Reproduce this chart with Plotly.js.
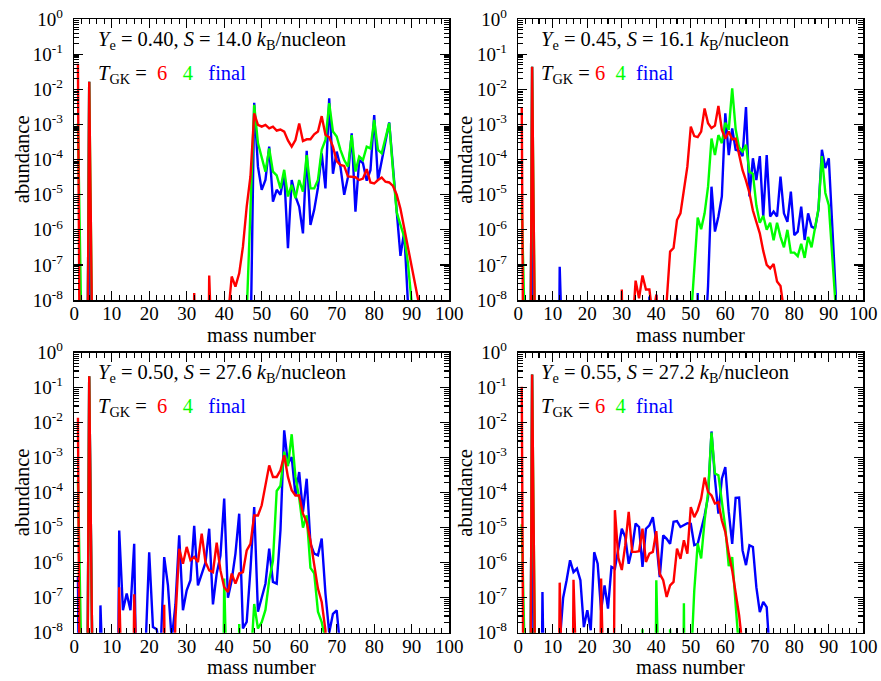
<!DOCTYPE html>
<html>
<head>
<meta charset="utf-8">
<script src="https://cdn.plot.ly/plotly-3.0.1.min.js"></script>
<style>html,body{margin:0;padding:0;background:#fff;}#chart{width:881px;height:681px;}</style>
</head>
<body>
<div id="chart"></div>
<script>
// U marks an abundance far below the plotted range (< 1e-8)
const U = -20;

// mass numbers A = 1..95 (categories shared by every series)
const massNumber = [
  1,2,3,4,5,6,7,8,9,10, 11,12,13,14,15,16,17,18,19,20,
  21,22,23,24,25,26,27,28,29,30, 31,32,33,34,35,36,37,38,39,40,
  41,42,43,44,45,46,47,48,49,50, 51,52,53,54,55,56,57,58,59,60,
  61,62,63,64,65,66,67,68,69,70, 71,72,73,74,75,76,77,78,79,80,
  81,82,83,84,85,86,87,88,89,90, 91,92,93,94,95
];

// log10(abundance), index 0 = A=1
// Panel 1: Ye = 0.40, S = 14.0
const p1T6 = [
  -1.27,U,U,-1.78,U,U,U,U,U,U,
  U,U,U,U,U,U,U,U,U,U,
  U,U,U,U,U,U,U,U,U,U,
  U,-7.8,U,U,U,-7.3,U,U,U,U,
  -8.5,-7.33,-7.62,-7.24,-6.48,-5.34,-4.48,-2.68,-3.01,-3.06,
  -3.01,-3.11,-3.06,-3.17,-3.14,-3.20,-3.45,-3.63,-3.44,-2.97,
  -3.47,-3.42,-3.42,-3.28,-3.20,-2.76,-3.29,-3.36,-3.63,-4.04,
  -4.15,-4.18,-4.48,-4.50,-4.50,-4.58,-4.54,-4.27,-4.65,-4.68,
  -4.58,-4.51,-4.63,-4.65,-4.75,-5.0,-5.4,-5.95,-6.5,-7.05,
  -7.6,-8.15,U,U,U
];
const p1T4 = [
  -2.96,-9.3,U,-1.78,U,U,U,U,U,U,
  U,U,U,U,U,U,U,U,U,U,
  U,U,U,U,U,U,U,U,U,U,
  U,U,U,U,U,U,U,U,U,U,
  U,U,U,U,U,-8.4,-5.4,-2.44,-3.53,-3.95,
  -4.34,-3.68,-4.34,-4.45,-4.82,-4.29,-5.05,-4.72,-5.10,-4.58,
  -4.91,-3.87,-4.82,-4.82,-4.58,-3.72,-3.44,-2.39,-3.20,-3.34,
  -3.72,-4.01,-4.2,-3.3,-4.34,-3.91,-4.01,-3.63,-3.68,-2.87,
  -3.72,-3.82,-3.39,-2.96,-4.29,-5.5,-5.86,-6.2,-6.95,-8.1,
  U,U,U,U,U
];
const p1Final = [
  U,U,U,-1.78,U,U,U,U,U,U,
  U,U,U,U,U,U,U,U,U,U,
  U,U,U,U,U,U,U,U,U,U,
  U,U,U,U,U,U,U,U,U,U,
  U,U,U,U,U,U,-9.5,-2.38,-4.2,-4.86,
  -4.58,-3.63,-5.2,-4.86,-5.0,-4.4,-6.52,-4.58,-5.05,-5.34,
  -6.1,-3.75,-5.86,-5.43,-4.8,-3.82,-4.82,-2.25,-4.4,-3.77,
  -4.2,-5.0,-4.5,-3.25,-5.48,-4.01,-4.1,-4.6,-4.3,-2.73,
  -4.58,-4.0,-3.5,-2.94,-4.2,-5.4,-6.74,-6.05,-8.1,U,
  U,U,U,U,U
];

// Panel 2: Ye = 0.45, S = 16.1
const p2T6 = [
  -2.5,U,U,-1.35,U,U,U,U,U,U,
  U,U,U,U,U,U,U,U,U,U,
  U,U,U,U,U,U,U,U,U,-7.7,
  U,U,-9.0,-7.45,-7.95,-7.3,-7.7,-7.7,-8.5,-7.85,
  -9.5,-9.5,-8.05,-6.62,-6.52,-5.72,-5.53,-4.8,-4.2,-3.06,
  -3.33,-3.36,-3.2,-2.54,-2.96,-3.1,-3.03,-2.47,-3.15,-3.4,
  -3.2,-3.42,-3.4,-3.85,-4.3,-4.6,-4.95,-5.45,-5.8,-6.1,
  -6.6,-7.0,-7.1,-6.97,-7.47,-7.6,-8.3,U,U,U,
  U,U,U,U,U,U,U,U,U,U,
  U,U,U,U,U
];
const p2T4 = [
  -5.34,-9.3,U,-1.35,U,U,U,U,U,U,
  U,U,U,U,U,U,U,U,U,U,
  U,U,U,U,U,U,U,U,U,U,
  U,U,U,U,U,U,U,U,U,U,
  U,U,U,U,U,U,U,U,U,-8.6,
  -7.0,-5.65,-5.98,-5.53,-4.77,-3.4,-3.87,-3.3,-3.53,-2.95,
  -3.15,-1.97,-3.13,-3.65,-3.77,-3.58,-4.35,-4.4,-5.3,-5.8,
  -5.6,-6.0,-5.8,-6.3,-5.8,-6.2,-6.5,-6.0,-6.65,-6.65,
  -6.75,-6.4,-6.8,-6.2,-6.5,-6.0,-5.4,-3.9,-4.95,-5.3,
  -6.6,-8.2,U,U,U
];
const p2Final = [
  U,U,U,-1.35,U,U,U,U,U,U,
  U,-7.05,U,U,U,U,U,U,U,U,
  U,U,U,U,U,U,U,U,U,U,
  U,U,U,U,U,U,U,-7.9,U,-7.85,
  U,U,U,U,U,-7.95,U,U,U,U,
  U,-7.8,U,-9.5,-7.6,-4.77,-6.05,-5.62,-5.05,-2.68,
  -3.87,-3.11,-3.72,-3.75,-3.9,-2.5,-5.05,-3.96,-4.58,-3.9,
  -5.62,-3.87,-5.62,-5.48,-5.62,-4.48,-5.53,-5.77,-4.91,-6.15,
  -6.05,-5.34,-6.29,-5.53,-5.91,-5.96,-5.43,-3.72,-4.24,-3.96,
  -5.9,-7.8,U,U,U
];

// Panel 3: Ye = 0.50, S = 27.6
const p3T6 = [
  -1.86,U,U,-0.67,U,U,U,U,U,U,
  U,-6.7,U,U,U,-6.9,U,U,U,U,
  U,U,U,-7.2,U,-12,-7.6,-5.6,-6.03,-5.55,
  -5.93,-5.84,-5.98,-5.17,-5.98,-6.22,-6.27,-5.43,-6.22,-6.70,
  -6.84,-6.31,-6.6,-6.31,-6.27,-5.65,-5.46,-4.65,-4.65,-4.36,
  -3.84,-3.22,-3.55,-3.55,-3.36,-2.93,-3.55,-3.93,-4.08,-4.08,
  -4.6,-4.84,-5.37,-6.12,-6.74,-7.12,-7.93,U,U,U,
  U,U,U,U,U,U,U,U,U,U,
  U,U,U,U,U,U,U,U,U,U,
  U,U,U,U,U
];
const p3T4 = [
  -3.64,-9.3,U,-0.67,U,U,U,U,U,U,
  U,U,U,U,U,U,U,U,U,U,
  U,U,U,U,U,U,U,U,U,U,
  U,U,U,U,U,U,U,U,U,-6.45,
  U,U,U,-7.75,U,U,-9.0,-7.18,-7.88,-7.7,
  -7.35,-6.5,-5.95,-3.95,-3.8,-2.83,-3.24,-2.33,-3.55,-4.15,
  -5.0,-4.65,-6.15,-6.3,-7.4,-7.7,-8.2,U,U,U,
  U,U,U,U,U,U,U,U,U,U,
  U,U,U,U,U,U,U,U,U,U,
  U,U,U,U,U
];
const p3Final = [
  -6.4,U,U,-0.67,U,U,-7.22,U,U,U,
  U,-5.08,-7.36,-6.88,-7.36,-5.46,-8.6,U,-8.5,-5.7,
  -7.84,-7.9,-8.6,-5.84,-6.65,-8.2,-7.2,-5.22,-7.36,-6.79,
  -6.5,-4.95,-6.65,-6.31,-6.0,-5.03,-7.19,-6.31,-5.8,-4.17,
  -7.0,-6.5,-5.74,-4.6,-7.88,-7.69,-6.2,-4.41,-7.4,-7.0,
  -6.6,-5.6,-6.55,-6.6,-5.08,-2.22,-3.17,-2.98,-4.08,-3.41,
  -4.55,-3.6,-5.46,-5.74,-5.79,-5.31,-6.88,-8.0,-7.46,-7.36,
  -8.5,U,U,U,U,U,U,U,U,U,
  U,U,U,U,U,U,U,U,U,U,
  U,U,U,U,U
];

// Panel 4: Ye = 0.55, S = 27.2
const p4T6 = [
  -0.97,U,U,-0.62,U,U,U,U,U,U,
  U,-6.57,U,U,U,-6.49,U,U,U,U,
  U,U,U,-6.45,U,U,U,-4.5,-5.86,-6.21,
  -5.5,-4.55,-5.69,-5.69,-5.67,-5.03,-5.98,-5.74,-5.69,-5.1,
  -6.32,-6.5,-6.98,-6.65,-6.55,-5.6,-5.89,-5.36,-5.74,-4.41,
  -4.7,-4.5,-4.17,-3.57,-3.98,-4.08,-4.31,-4.27,-4.79,-5.12,
  -5.74,-6.22,-6.88,-7.5,-8.4,U,U,U,U,U,
  U,U,U,U,U,U,U,U,U,U,
  U,U,U,U,U,U,U,U,U,U,
  U,U,U,U,U
];
const p4T4 = [
  -4.9,-9.3,U,-0.62,U,U,U,U,U,U,
  U,U,U,U,U,U,U,U,U,U,
  U,U,U,U,U,U,U,U,U,U,
  U,U,U,U,U,-7.9,U,U,U,-6.5,
  U,U,U,-7.9,U,U,U,-7.16,U,-9.0,
  -6.8,-5.45,-5.88,-4.8,-4.0,-2.28,-3.45,-3.5,-4.3,-5.0,
  -6.1,-5.84,-7.2,-8.5,U,U,U,U,U,U,
  U,U,U,U,U,U,U,U,U,U,
  U,U,U,U,U,U,U,U,U,U,
  U,U,U,U,U
];
const p4Final = [
  U,U,U,-0.62,U,U,-6.84,U,U,U,
  -9.0,-8.3,-7.0,-6.5,-5.93,-6.27,-6.17,-6.5,-7.84,-7.36,
  -7.93,-5.7,-6.03,-7.36,-6.65,-7.31,-6.12,-6.17,-5.55,-5.03,
  -5.27,-6.03,-5.6,-4.88,-4.98,-6.12,-5.03,-4.93,-4.7,-5.4,
  -6.41,-5.22,-5.32,-5.46,-4.83,-4.81,-4.98,-4.93,-4.87,-4.89,
  -5.5,-5.46,-5.08,-4.65,-4.12,-2.25,-3.6,-4.6,-3.6,-3.27,
  -4.55,-5.46,-4.15,-4.14,-5.65,-6.07,-5.5,-5.55,-6.7,-7.41,
  -7.12,-7.27,-8.8,U,U,U,U,U,U,U,
  U,U,U,U,U,U,U,U,U,U,
  U,U,U,U,U
];

const yeLabels = ['0.40', '0.45', '0.50', '0.55'];
const entropyLabels = ['14.0', '16.1', '27.6', '27.2'];
const yTickVals = [1e-8, 1e-7, 1e-6, 1e-5, 1e-4, 1e-3, 1e-2, 1e-1, 1];
const yTickText = ['10<sup>-8</sup>','10<sup>-7</sup>','10<sup>-6</sup>','10<sup>-5</sup>',
                   '10<sup>-4</sup>','10<sup>-3</sup>','10<sup>-2</sup>','10<sup>-1</sup>','10<sup>0</sup>'];

const panels = [
  {final: p1Final, t4: p1T4, t6: p1T6},
  {final: p2Final, t4: p2T4, t6: p2T6},
  {final: p3Final, t4: p3T4, t6: p3T6},
  {final: p4Final, t4: p4T4, t6: p4T6}
];

const RED = '#ff0000', GREEN = '#00ff00', BLUE = '#0000ff';
const FONT = 'Liberation Serif';

const traces = [];
panels.forEach((p, i) => {
  const xa = i === 0 ? 'x' : 'x' + (i + 1);
  const ya = i === 0 ? 'y' : 'y' + (i + 1);
  [[p.final, BLUE, 'final'], [p.t4, GREEN, 'T = 4 GK'], [p.t6, RED, 'T = 6 GK']].forEach(([arr, col, nm]) => {
    traces.push({
      x: massNumber,
      y: arr.map(v => Math.pow(10, v)),
      xaxis: xa, yaxis: ya,
      type: 'scatter', mode: 'lines', name: nm,
      line: {color: col, width: 2.4},
      hoverinfo: 'skip', showlegend: false
    });
  });
});

// minor tick positions for log axis (2..9 x 10^k)
const yMinor = [];
for (let e = -8; e < 0; e++) for (let d = 2; d <= 9; d++) yMinor.push(d * Math.pow(10, e));

function xAxis(domain, anchor) {
  return {
    domain: domain, anchor: anchor, range: [0, 100], tick0: 0, dtick: 10,
    ticks: 'inside', ticklen: 9, tickwidth: 1.3, tickcolor: '#000',
    showline: true, linecolor: '#000', linewidth: 1.5, mirror: 'ticks',
    showgrid: false, zeroline: false, ticklabelstandoff: -4,
    tickfont: {family: FONT, size: 19, color: '#000'},
    minor: {dtick: 2, ticks: 'inside', ticklen: 5, tickwidth: 1.1, tickcolor: '#000', showgrid: false}
  };
}
function yAxis(domain, anchor) {
  return {
    domain: domain, anchor: anchor, type: 'log', range: [-8, 0],
    tickmode: 'array', tickvals: yTickVals, ticktext: yTickText,
    ticks: 'inside', ticklen: 9, tickwidth: 1.3, tickcolor: '#000',
    showline: true, linecolor: '#000', linewidth: 1.5, mirror: 'ticks',
    showgrid: false, zeroline: false, ticklabelstandoff: 6,
    tickfont: {family: FONT, size: 19, color: '#000'},
    minor: {tickmode: 'array', tickvals: yMinor, ticks: 'inside', ticklen: 5, tickwidth: 1.1, tickcolor: '#000', showgrid: false}
  };
}

const xL = [0.08422, 0.50988], xR = [0.58831, 0.97991];
const yT = [0.55947, 0.97166], yB = [0.07093, 0.48209];

const annotations = [];
const NB = '\u00a0';
panels.forEach((p, i) => {
  const xr = (i === 0 ? 'x' : 'x' + (i + 1)) + ' domain';
  const yr = (i === 0 ? 'y' : 'y' + (i + 1)) + ' domain';
  const wide = (i % 2 === 0);
  const g1 = wide ? ' ' + NB : ' ';
  const g2 = wide ? NB + ' ' + NB : NB + ' ';
  annotations.push({
    xref: xr, yref: yr, x: wide ? 0.058 : 0.06, y: 0.925, xanchor: 'left', yanchor: 'middle', showarrow: false,
    text: '<i>Y</i><sub>e</sub> = ' + yeLabels[i] + ', <i>S</i> = ' + entropyLabels[i] + ' <i>k</i><sub>B</sub>/nucleon',
    font: {family: FONT, size: 20.5, color: '#000'}
  });
  annotations.push({
    xref: xr, yref: yr, x: wide ? 0.058 : 0.06, y: 0.805, xanchor: 'left', yanchor: 'middle', showarrow: false,
    text: '<i>T</i><sub>GK</sub> =' + g1 + '<span style="color:' + RED + '">6</span>' + g2 +
          '<span style="color:' + GREEN + '">4</span>' + g2 + '<span style="color:' + BLUE + '">final</span>',
    font: {family: FONT, size: 20.5, color: '#000'}
  });
  annotations.push({
    xref: xr, yref: yr, x: 0.5, y: -0.124, xanchor: 'center', yanchor: 'middle', showarrow: false,
    text: 'mass number', font: {family: FONT, size: 20.5, color: '#000'}
  });
  annotations.push({
    xref: xr, yref: yr, x: wide ? -0.1405 : -0.1545, y: 0.5, xanchor: 'center', yanchor: 'middle',
    showarrow: false, textangle: -90,
    text: 'abundance', font: {family: FONT, size: 20.5, color: '#000'}
  });
});

const layout = {
  width: 881, height: 681,
  margin: {l: 0, r: 0, t: 0, b: 0},
  paper_bgcolor: '#fff', plot_bgcolor: '#fff',
  showlegend: false,
  font: {family: FONT, color: '#000'},
  xaxis: xAxis(xL, 'y'), yaxis: yAxis(yT, 'x'),
  xaxis2: xAxis(xR, 'y2'), yaxis2: yAxis(yT, 'x2'),
  xaxis3: xAxis(xL, 'y3'), yaxis3: yAxis(yB, 'x3'),
  xaxis4: xAxis(xR, 'y4'), yaxis4: yAxis(yB, 'x4'),
  annotations: annotations
};

Plotly.newPlot('chart', traces, layout, {displayModeBar: false, staticPlot: true});
</script>
</body>
</html>
